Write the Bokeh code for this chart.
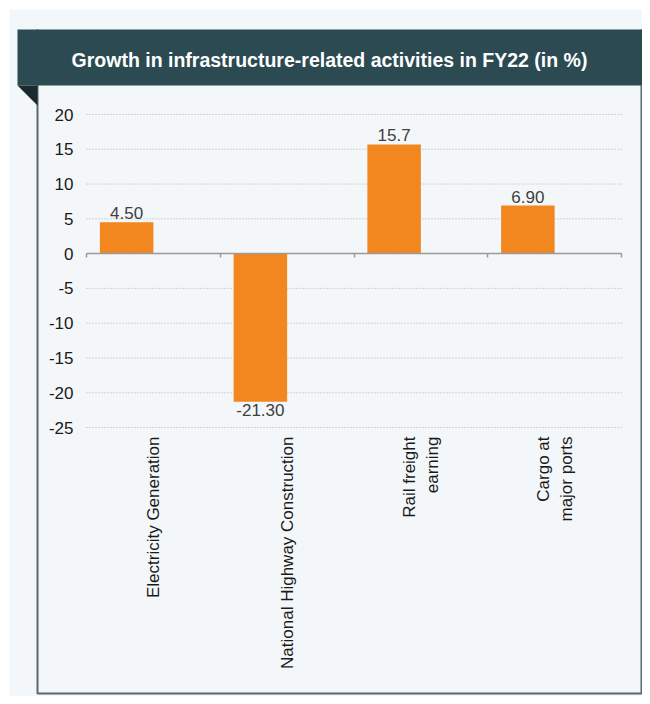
import math
from bokeh.plotting import figure
from bokeh.models import (Range1d, LinearAxis, FixedTicker, Label, ColumnDataSource)
from bokeh.transform import dodge
from bokeh.core.properties import value
from bokeh.embed import file_html
from bokeh.resources import INLINE

# ---- data ----
chart_title = "Growth in infrastructure-related activities in FY22 (in %)"
categories = ["Electricity Generation", "National Highway Construction",
              "Rail freight\nearning", "Cargo at\nmajor ports"]
growth = [4.50, -21.30, 15.7, 6.90]
value_labels = ["4.50", "-21.30", "15.7", "6.90"]
y_ticks = [-25, -20, -15, -10, -5, 0, 5, 10, 15, 20]
y_tick_labels = ["-25", "-20", "-15", "-10", "-5", "0", "5", "10", "15", "20"]

# ---- style / layout (pixels on the canvas) ----
FONT = "Liberation Sans"
BG = "#f4f7f9"
HEADER = "#2b4a52"
CORNER = "#1b2a2f"
FRAME = "#58686e"
BAR = "#f3871f"
AXIS = "#9a9a9a"
W, H = 642, 696
PLOT_L, PLOT_R, PLOT_T, PLOT_B = 86, 621, 114, 427

n = len(categories)
cat_px = (PLOT_R - PLOT_L) / n
ppu = (PLOT_B - PLOT_T) / (y_ticks[-1] - y_ticks[0])

p = figure(width=W, height=H, output_backend="svg", toolbar_location=None,
           x_range=Range1d(0, W), y_range=Range1d(H, 0),
           x_axis_type=None, y_axis_type=None, min_border=0)
p.min_border_left = p.min_border_right = p.min_border_top = p.min_border_bottom = 0
p.background_fill_color = "white"
p.border_fill_color = "white"
p.outline_line_color = None

p.extra_x_ranges = {"chart": Range1d(-PLOT_L / cat_px, n + (W - PLOT_R) / cat_px)}
p.extra_y_ranges = {"val": Range1d(y_ticks[0] - (H - PLOT_B) / ppu,
                                   y_ticks[-1] + PLOT_T / ppu)}

# ---- decorations (canvas pixel space) ----
p.quad(left=9, right=W, top=9, bottom=H, fill_color=BG, line_color=None)
p.line(x=[37, 37, 641, 641], y=[29, 693, 693, 29], line_color=FRAME, line_width=2)
p.quad(left=17, right=642, top=29, bottom=85, fill_color=HEADER, line_color=None)
p.patch(x=[17, 37, 37], y=[85, 85, 105], fill_color=CORNER, line_color=None)
p.add_layout(Label(x=329, y=59, text=chart_title, text_align="center",
                   text_baseline="middle", text_color="white", text_font=FONT,
                   text_font_style="bold", text_font_size="19.5px"))

# ---- chart ----
centers = [i + 0.5 for i in range(n)]
bounds = list(range(n + 1))

# dotted grid lines
p.segment(x0=[0] * len(y_ticks), x1=[n] * len(y_ticks), y0=y_ticks, y1=y_ticks,
          x_range_name="chart", y_range_name="val",
          line_color="#b0b0b0", line_width=1, line_dash="1 2")

src = ColumnDataSource(dict(center=centers, val=growth, label=value_labels))
p.vbar(x=dodge("center", -0.2), top="val", bottom=0, width=0.4, source=src,
       x_range_name="chart", y_range_name="val", fill_color=BAR, line_color=None)

pos = [i for i, v in enumerate(growth) if v >= 0]
neg = [i for i, v in enumerate(growth) if v < 0]
src_pos = ColumnDataSource(dict(center=[centers[i] for i in pos],
                                val=[growth[i] for i in pos],
                                label=[value_labels[i] for i in pos]))
src_neg = ColumnDataSource(dict(center=[centers[i] for i in neg],
                                val=[growth[i] for i in neg],
                                label=[value_labels[i] for i in neg]))
p.text(x=dodge("center", -0.2), y="val", text="label", source=src_pos,
       x_range_name="chart", y_range_name="val",
       text_align="center", text_baseline="bottom", y_offset=-3,
       text_font=value(FONT), text_font_size="17px", text_color="#404040")
p.text(x=dodge("center", -0.2), y="val", text="label", source=src_neg,
       x_range_name="chart", y_range_name="val",
       text_align="center", text_baseline="top", y_offset=2,
       text_font=value(FONT), text_font_size="17px", text_color="#404040")

# y axis (value labels at the left edge of the plot area)
yaxis = LinearAxis(x_range_name="chart", y_range_name="val", fixed_location=0,
                   ticker=FixedTicker(ticks=y_ticks),
                   major_label_overrides={t: s for t, s in zip(y_ticks, y_tick_labels)})
yaxis.axis_line_color = None
yaxis.major_tick_line_color = None
yaxis.minor_tick_line_color = None
yaxis.major_tick_out = 0
yaxis.major_tick_in = 0
yaxis.major_label_standoff = 13
yaxis.major_label_text_font = FONT
yaxis.major_label_text_font_size = "17px"
yaxis.major_label_text_color = "#1a1a1a"
p.add_layout(yaxis, "left")

# zero line with category boundary ticks
zaxis = LinearAxis(x_range_name="chart", y_range_name="val", fixed_location=0,
                   bounds=(0, n), ticker=FixedTicker(ticks=bounds),
                   major_label_overrides={b: "" for b in bounds})
zaxis.axis_line_color = AXIS
zaxis.axis_line_width = 1.5
zaxis.major_tick_line_color = AXIS
zaxis.major_tick_line_width = 1.5
zaxis.major_tick_out = 4
zaxis.major_tick_in = 0
zaxis.minor_tick_line_color = None
p.add_layout(zaxis, "below")

# category labels under the plot area
xaxis = LinearAxis(x_range_name="chart", y_range_name="val", fixed_location=y_ticks[0],
                   ticker=FixedTicker(ticks=centers),
                   major_label_overrides={c: s for c, s in zip(centers, categories)})
xaxis.axis_line_color = None
xaxis.major_tick_line_color = None
xaxis.minor_tick_line_color = None
xaxis.major_tick_out = 0
xaxis.major_tick_in = 0
xaxis.major_label_orientation = math.pi / 2
xaxis.major_label_standoff = 9
xaxis.major_label_text_font = FONT
xaxis.major_label_text_font_size = "17px"
xaxis.major_label_text_color = "#1a1a1a"
p.add_layout(xaxis, "below")

open("out.html", "w").write(file_html(p, INLINE))
